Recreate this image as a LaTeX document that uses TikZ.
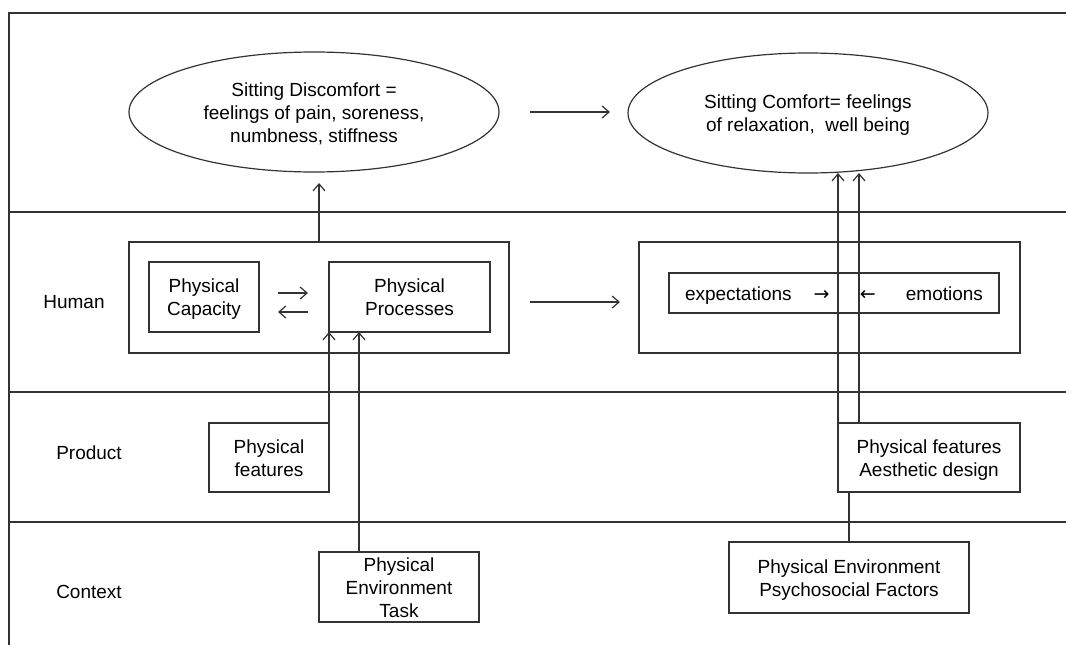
\documentclass[tikz,border=0pt]{standalone}
\usepackage{fontspec}
\setmainfont{Liberation Sans}
\newfontfamily\arrowfont{DejaVu Sans}
\usetikzlibrary{shapes.geometric,arrows.meta}
\definecolor{ink}{HTML}{333333}
% centred block of strutted lines, set a little low inside its node
\newcommand\cellstack[1]{\raisebox{-2.5pt}[\height][\depth]{\begin{tabular}{@{}c@{}}#1\end{tabular}}}

\begin{document}
\begin{tikzpicture}[x=1pt,y=-1pt,
  every node/.style={font=\fontsize{19}{23}\selectfont, inner sep=0pt, outer sep=0pt},
  box/.style={draw=ink, line width=1.2pt, rectangle},
  oval/.style={draw=ink, line width=1.2pt, ellipse},
  rule/.style={draw=ink, line width=1.2pt},
  link/.style={draw=ink, line width=1.2pt, -{Straight Barb[length=7pt,width=12pt]}},
]
\useasboundingbox (0,0) rectangle (1066,645);

% frame and lane separators
\draw[rule] (1066,13) -- (9,13) -- (9,645);
\draw[rule] (9,212) -- (1066,212);
\draw[rule] (9,392) -- (1066,392);
\draw[rule] (9,522) -- (1066,522);

% lane labels
\node (human)   at (74,302) {Human};
\node (product) at (89,453) {Product};
\node (context) at (89,592) {Context};

% outcomes
\node[oval, minimum width=370pt, minimum height=120pt] (disc) at (314,112)
  {\cellstack{Sitting Discomfort =\\feelings of pain, soreness,\\numbness, stiffness}};
\node[oval, minimum width=360pt, minimum height=120pt] (comf) at (808,113)
  {\cellstack{Sitting Comfort= feelings\\of relaxation,\ \ well being}};

% human level
\node[box, minimum width=380pt, minimum height=111pt] (hbox) at (319,297.5) {};
\node[box, minimum width=110pt, minimum height=70pt] (cap) at (204,297) {\cellstack{Physical\\Capacity}};
\node[box, minimum width=161pt, minimum height=70pt] (proc) at (409.5,297) {\cellstack{Physical\\Processes}};
\node[box, minimum width=381pt, minimum height=111pt] (rbox) at (829.5,297.5) {};
\node[box, minimum width=330pt, minimum height=40pt] (feel) at (834,293)
  {\cellstack{\makebox[298pt]{expectations\hspace{22pt}{\arrowfont →}\hfill{\arrowfont ←}\hspace{30pt}emotions}}};

% product level
\node[box, minimum width=120pt, minimum height=69pt] (feat) at (269,457.5) {\cellstack{Physical\\features}};
\node[box, minimum width=182pt, minimum height=69pt] (look) at (929,457.5) {\cellstack{Physical features\\Aesthetic design}};

% context level
\node[box, minimum width=160pt, minimum height=70pt] (env) at (399,587) {\cellstack{Physical\\Environment\\Task}};
\node[box, minimum width=240pt, minimum height=71pt] (env2) at (849,577.5) {\cellstack{Physical Environment\\Psychosocial Factors}};

% free arrow ends
\coordinate (upA) at (319,183);
\coordinate (d1) at (530,112);
\coordinate (d2) at (610,112);
\coordinate (h1) at (530,302);
\coordinate (h2) at (620,302);
\coordinate (c1) at (278,293);
\coordinate (c2) at (308,293);
\coordinate (c3) at (308,312);
\coordinate (c4) at (278,312);

% connectors
\draw[link] (hbox.north) -- (upA);
\draw[link] (d1) -- (d2);
\draw[link] (h1) -- (h2);
\draw[link] (c1) -- (c2);
\draw[link] (c3) -- (c4);
\draw[link] (feat.north east) -- (proc.south west);
\draw[link] ([xshift=-40pt]env.north) -- ([xshift=-40pt]env.north |- proc.south);
\draw[link] (look.north west) -- (look.north west |- comf.south);
\draw[link] ([xshift=21pt]look.north west) -- ([xshift=21pt]look.north west |- comf.south);
\draw[rule] (env2.north) -- (env2.north |- look.south);
\end{tikzpicture}
\end{document}
